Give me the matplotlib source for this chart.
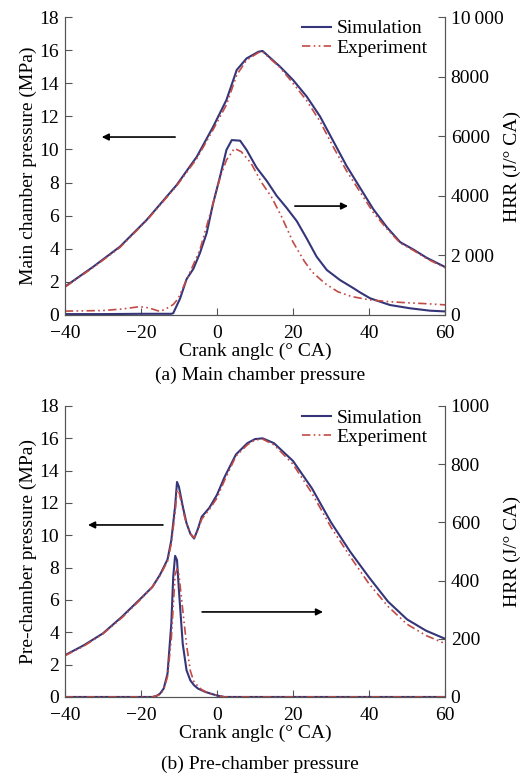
import matplotlib.pyplot as plt

plt.rcParams["font.family"] = ["Liberation Serif", "DejaVu Serif"]

SIM_COLOR = "#35357a"
EXP_COLOR = "#c24a44"

# (a) main chamber pressure, MPa
main_theta = [-40, -32.5, -25.5, -18.5, -10.6, -5.3, -1, 2.5, 5.2, 7.8, 10.9, 12, 16.6, 20, 23.6, 27.1, 30.6,
              34.1, 37.6, 41.1, 44.7, 48.2, 51.7, 55.2, 60]
main_p_sim = [1.71, 2.92, 4.13, 5.74, 7.85, 9.56, 11.37, 12.99, 14.8, 15.5, 15.9, 15.95, 15.0, 14.2, 13.2, 12.0,
              10.5, 9.0, 7.7, 6.4, 5.3, 4.4, 3.95, 3.45, 2.9]
main_p_exp = [1.68, 2.88, 4.08, 5.7, 7.8, 9.45, 11.2, 12.7, 14.5, 15.4, 15.85, 15.9, 14.95, 14.0, 12.95, 11.7,
              10.15, 8.7, 7.45, 6.2, 5.2, 4.35, 3.9, 3.4, 2.85]

# (a) main chamber heat release rate, J/deg CA
main_hrr_theta_sim = [-40, -30, -20, -15, -12, -11.5, -9.7, -8, -6.2, -4.5, -2.7, -1, 0.8, 2.5, 3.9, 6.1, 7.8,
                      10.4, 13.1, 15.7, 18.3, 21, 23.6, 26.2, 28.9, 32.4, 35.9, 37.6, 40.3, 45.5, 50.8, 56, 60]
main_hrr_sim = [30, 30, 40, 40, 40, 60, 550, 1200, 1550, 2070, 2750, 3750, 4640, 5540, 5870, 5850, 5540,
                4950, 4500, 4000, 3600, 3150, 2570, 1960, 1510, 1170, 900, 760, 560, 335, 225, 145, 120]
main_hrr_theta_exp = [-40, -30, -25, -20.3, -18, -15, -13.5, -11.5, -10.2, -8, -4.5, -1, 0.8, 2.5, 4.6, 6.4, 9,
                      11.6, 14.3, 17, 20, 23, 25, 28.4, 31.8, 35.4, 40, 45, 50, 55, 60]
main_hrr_exp = [130, 150, 200, 280, 240, 120, 200, 350, 550, 1175, 2180, 3750, 4600, 5200, 5590, 5480, 5090,
                4470, 3970, 3300, 2450, 1800, 1450, 1060, 780, 620, 510, 450, 410, 380, 340]

# (b) pre-chamber pressure, MPa
pre_theta = [-40, -35, -30, -25, -20, -17, -15, -13, -12, -11, -10.5, -10, -9, -8, -7, -6, -5, -4, -2, 0, 2, 5,
             8, 10, 12, 15, 20, 25, 30, 35, 40, 45, 50, 55, 60]
pre_p_sim = [2.58, 3.2, 3.93, 4.96, 6.1, 6.8, 7.55, 8.5, 9.7, 11.8, 13.3, 13.0, 11.8, 10.75, 10.1, 9.8, 10.4,
             11.15, 11.7, 12.5, 13.6, 15.0, 15.7, 15.95, 16.0, 15.7, 14.6, 12.9, 10.8, 9.0, 7.4, 5.9, 4.8, 4.1, 3.6]
pre_p_exp = [2.55, 3.15, 3.9, 4.9, 6.05, 6.8, 7.5, 8.4, 9.5, 11.4, 12.8, 12.7, 11.6, 10.7, 10.1, 9.85, 10.3,
             11.0, 11.6, 12.3, 13.4, 14.9, 15.6, 15.9, 15.95, 15.6, 14.4, 12.6, 10.5, 8.7, 7.0, 5.6, 4.5, 3.8, 3.3]

# (b) pre-chamber heat release rate, J/deg CA
pre_hrr_theta_sim = [-40, -20, -17, -16, -15, -14, -13, -12, -11.5, -11, -10.5, -10, -9, -8, -7, -6, -5, -3, -1,
                     0, 2, 60]
pre_hrr_sim = [0, 0, 0, 3, 11, 29, 80, 252, 413, 485, 470, 367, 183, 92, 57, 40, 29, 17, 9, 5, 0, 0]
pre_hrr_theta_exp = [-40, -20, -17, -15, -14, -13, -12, -11, -10.5, -10, -9, -8, -7, -6, -4, -2, 0, 2, 60]
pre_hrr_exp = [0, 0, 0, 8, 25, 70, 200, 420, 440, 420, 300, 180, 90, 50, 25, 12, 5, 0, 0]

left_ticks = [0, 2, 4, 6, 8, 10, 12, 14, 16, 18]
x_ticks = [-40, -20, 0, 20, 40, 60]
main_hrr_ticks = [0, 2000, 4000, 6000, 8000, 10000]
main_hrr_labels = ["0", "2\u2009000", "4000", "6000", "8000", "10\u2009000"]
pre_hrr_ticks = [0, 200, 400, 600, 800, 1000]

DASHES = [5, 2, 1, 2, 1, 2]


def style_axes(ax, ax2):
    for a in (ax, ax2):
        a.spines["top"].set_visible(False)
        for s in a.spines.values():
            s.set_color("#555555")
        a.tick_params(direction="in", length=5, width=0.8, labelsize=14, color="#555555")
    ax.set_xlim(-40, 60)
    ax.set_ylim(0, 18)
    ax.set_xticks(x_ticks)
    ax.set_yticks(left_ticks)
    ax.tick_params(axis="x", pad=7)
    ax.tick_params(axis="y", pad=4)
    ax2.tick_params(axis="y", pad=4)


def panel(fig, rect, p_data, hrr_data, hrr_ticks, hrr_labels, hrr_max, ylabel, caption, caption_y, arrows):
    theta, p_sim, p_exp = p_data
    ht_sim, h_sim, ht_exp, h_exp = hrr_data
    ax = fig.add_axes(rect)
    ax2 = ax.twinx()
    ax.plot(theta, p_sim, color=SIM_COLOR, lw=1.5, label="Simulation")
    ax.plot(theta, p_exp, color=EXP_COLOR, lw=1.2, dashes=DASHES, label="Experiment")
    ax2.plot(ht_sim, h_sim, color=SIM_COLOR, lw=1.5)
    ax2.plot(ht_exp, h_exp, color=EXP_COLOR, lw=1.2, dashes=DASHES)
    ax2.set_ylim(0, hrr_max)
    ax2.set_yticks(hrr_ticks)
    ax2.set_yticklabels(hrr_labels)
    style_axes(ax, ax2)
    ax.set_xlabel("Crank anglc (\u00b0 CA)", fontsize=14, labelpad=1)
    ax.set_ylabel(ylabel, fontsize=14, labelpad=2)
    ax2.set_ylabel("HRR (J/\u00b0 CA)", fontsize=14)
    ax2.yaxis.set_label_coords(1.155, 0.5)
    ax.legend(loc="upper right", bbox_to_anchor=(0.985, 1.03), frameon=False, fontsize=14,
              handlelength=1.5, handletextpad=0.3, labelspacing=0.1, borderaxespad=0.2)
    for head, tail in arrows:
        ax.annotate("", xy=head, xytext=tail,
                    arrowprops=dict(arrowstyle="-|>", color="black", lw=1.2, mutation_scale=10,
                                    shrinkA=0, shrinkB=0))
    fig.text(rect[0] + rect[2] / 2 + 0.01, caption_y, caption, ha="center", va="center", fontsize=14)


fig = plt.figure(figsize=(5.23, 7.77), dpi=100)
panel(fig, [0.124, 0.5946, 0.727, 0.3835],
      (main_theta, main_p_sim, main_p_exp),
      (main_hrr_theta_sim, main_hrr_sim, main_hrr_theta_exp, main_hrr_exp),
      main_hrr_ticks, main_hrr_labels, 10000,
      "Main chamber pressure (MPa)", "(a) Main chamber pressure", 1 - 375 / 777,
      [((-30.3, 10.75), (-11.0, 10.75)), ((34.5, 6.58), (20.5, 6.58))])
panel(fig, [0.124, 0.103, 0.727, 0.3745],
      (pre_theta, pre_p_sim, pre_p_exp),
      (pre_hrr_theta_sim, pre_hrr_sim, pre_hrr_theta_exp, pre_hrr_exp),
      pre_hrr_ticks, [str(t) for t in pre_hrr_ticks], 1000,
      "Pre-chamber pressure (MPa)", "(b) Pre-chamber pressure", 1 - 764 / 777,
      [((-33.9, 10.64), (-14.2, 10.64)), ((27.9, 5.26), (-3.9, 5.26))])

fig.savefig("out.png", dpi=100)
